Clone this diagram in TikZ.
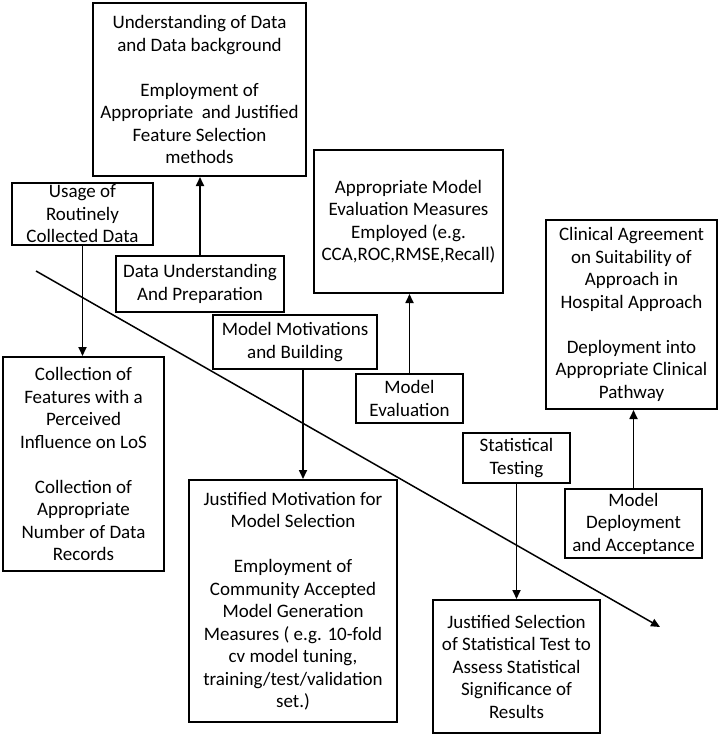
\documentclass[tikz,border=0pt]{standalone}
\usepackage{fontspec}
\setmainfont{Carlito}
\usetikzlibrary{arrows.meta, positioning, calc}
\definecolor{ink}{HTML}{000000}
\tikzset{
  box/.style  = {draw=ink, line width=2pt, fill=white, align=center,
                 inner sep=2pt, font=\fontsize{19}{22.5}\selectfont},
  arr/.style  = {-{Triangle[length=9pt,width=8pt]}, line width=1.7pt, ink},
  flow/.style = {arr, line width=1.5pt},
}

\begin{document}
\begin{tikzpicture}[x=1pt, y=-1pt]
  \useasboundingbox (0,0) rectangle (720,736);

  % process flow line
  \coordinate (fstart) at (36,271);
  \coordinate (fend)   at (660,627);
  \draw[flow] (fstart) -- (fend);

  % data understanding
  \node[box, minimum width=213pt, minimum height=173pt] (und) at (199.5,89.5)
    {Understanding of Data\\ and Data background\\[22.5pt]
     Employment of\\ Appropriate\ \ and Justified\\ Feature Selection\\ methods};
  \node[box, minimum width=168pt, minimum height=56pt] (dup) at (200,284)
    {Data Understanding\\ And Preparation};

  % data collection
  \node[box, minimum width=141pt, minimum height=56pt] (usage) at (82.5,214)
    {Usage of\\ Routinely\\ Collected Data};
  \node[box, minimum width=161pt, minimum height=214pt] (coll) at (83.5,464)
    {Collection of\\ Features with a\\ Perceived\\ Influence on LoS\\[22.5pt]
     Collection of\\ Appropriate\\ Number of Data\\ Records};

  % model building
  \node[box, minimum width=164pt, minimum height=54pt] (mmb) at (295,342)
    {Model Motivations\\ and Building};
  \node[box, minimum width=208pt, minimum height=242pt] (jmot) at (293,601)
    {Justified Motivation for\\ Model Selection\\[22.5pt]
     Employment of\\ Community Accepted\\ Model Generation\\
     Measures ( e.g. 10-fold\\ cv model tuning,\\ training/test/validation\\ set.)};

  % evaluation
  \node[box, minimum width=189pt, minimum height=143pt] (evm) at (408.5,221.5)
    {Appropriate Model\\ Evaluation Measures\\ Employed (e.g.\\ CCA,ROC,RMSE,Recall)};
  \node[box, minimum width=107pt, minimum height=49pt] (meval) at (409.5,398.5)
    {Model\\ Evaluation};

  % statistical testing
  \node[box, minimum width=107pt, minimum height=50pt] (stat) at (516.5,458)
    {Statistical\\ Testing};
  \node[box, minimum width=167pt, minimum height=133pt] (jsel) at (516.5,666.5)
    {Justified Selection\\ of Statistical Test to\\ Assess Statistical\\
     Significance of\\ Results};

  % deployment
  \node[box, minimum width=137pt, minimum height=69pt] (mdep) at (633.5,523.5)
    {Model\\ Deployment\\ and Acceptance};
  \node[box, minimum width=171pt, minimum height=189pt] (clin) at (631.5,314.5)
    {Clinical Agreement\\ on Suitability of\\ Approach in\\ Hospital Approach\\[22.5pt]
     Deployment into\\ Appropriate Clinical\\ Pathway};

  \draw[arr] (dup.north) -- (dup.north |- und.south);
  \draw[arr] (usage.south) -- (usage.south |- coll.north);
  \draw[arr] ([xshift=8pt]mmb.south) -- ([xshift=8pt]mmb.south |- jmot.north);
  \draw[arr] (meval.north) -- (meval.north |- evm.south);
  \draw[arr] (stat.south) -- (stat.south |- jsel.north);
  \draw[arr] (mdep.north) -- (mdep.north |- clin.south);

\end{tikzpicture}
\end{document}
